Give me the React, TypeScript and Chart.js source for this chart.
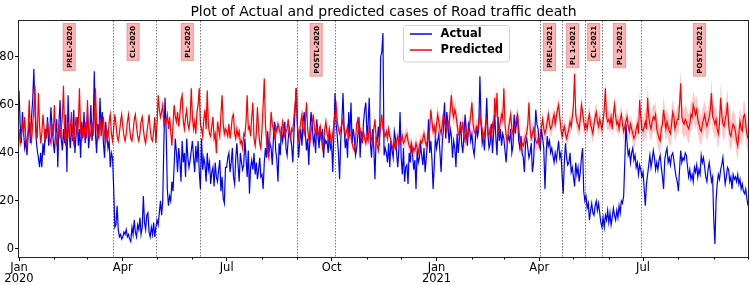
import { useEffect, useRef } from 'react';
import { Chart, registerables } from 'chart.js';

Chart.register(...registerables);

const FONT = "'DejaVu Sans', sans-serif";

const chartTitle = 'Plot of Actual and predicted cases of Road traffic death';

// day index 0 = 2020-01-01
const monthStartDays = [0, 31, 60, 91, 121, 152, 182, 213, 244, 274, 305, 335, 366, 397, 425, 456, 486, 517, 547, 578, 609, 639];
const majorTickDays = [0, 91, 182, 274, 366, 456, 547];
const majorTickLabels: (string | string[])[] = [['Jan', '2020'], 'Apr', 'Jul', 'Oct', ['Jan', '2021'], 'Apr', 'Jul'];
const yTickValues = [0, 20, 40, 60, 80];

const eventDays = [82, 120, 159, 244, 277, 457, 476, 496, 511, 545];
const phaseLabels = ['PREL-2020', 'CL-2020', 'PL-2020', 'POSTL-2020', 'PREL-2021', 'PL 1-2021', 'CL-2021', 'PL 2-2021', 'POSTL-2021'];
const phaseLabelDays = [44, 100, 147.5, 260.5, 465, 485.3, 503.7, 526.3, 596.4];
const phaseLabelTopValue = 94;

const actualQ1_2020 = [
  66, 52, 44, 57, 49, 42, 45, 39, 47, 53, 44, 55, 62, 75, 58, 46, 41, 38, 34, 40, 34, 44, 39, 50, 46, 55, 43, 48, 59, 50, 45,
  40, 48, 54, 34, 52, 62, 46, 41, 50, 44, 56, 32, 64, 48, 42, 52, 45, 58, 40, 47, 55, 43, 50, 38, 53, 46, 57, 44, 49,
  56, 42, 48, 60, 45, 51, 74, 48, 40, 52, 46, 63, 50, 57, 44, 38, 53, 47, 42, 45, 34, 40, 38, 25, 9, 10, 18, 8, 5, 6, 4,
];
const actualQ2_2020 = [
  5, 7, 6, 8, 5, 6, 4, 3, 9, 6, 12, 7, 5, 10, 8, 13, 6, 9, 22, 11, 8, 14, 15, 7, 5, 9, 6, 11, 5, 9,
  12, 10, 15, 20, 14, 20, 45, 63, 49, 25, 18, 22, 20, 28, 24, 35, 46, 40, 32, 42, 37, 28, 45, 36, 40, 30, 46, 38, 34, 37, 41,
  45, 38, 32, 43, 36, 45, 32, 25, 46, 33, 38, 35, 28, 40, 33, 36, 27, 32, 34, 26, 36, 30, 28, 33, 37, 24, 30, 21, 19, 34,
];
const actualQ3_2020 = [
  34, 38, 40, 32, 36, 42, 30, 27, 38, 44, 35, 28, 40, 36, 33, 35, 46, 38, 30, 41, 23, 34, 37, 33, 40, 31, 36, 29, 33, 38, 30,
  31, 25, 36, 42, 38, 49, 40, 44, 42, 35, 46, 53, 41, 37, 28, 44, 39, 51, 45, 48, 53, 42, 39, 46, 50, 47, 43, 36, 48, 58, 67,
  52, 38, 44, 50, 43, 53, 57, 48, 41, 46, 35, 49, 57, 52, 44, 47, 40, 54, 48, 42, 51, 45, 50, 38, 46, 44, 45, 40, 48, 42,
];
const actualQ4_2020 = [
  44, 32, 48, 65, 52, 47, 40, 29, 45, 53, 65, 50, 42, 46, 38, 57, 48, 61, 44, 50, 46, 39, 42, 47, 55, 38, 49, 44, 53, 58, 61,
  47, 52, 63, 44, 38, 50, 42, 29, 46, 45, 51, 43, 80, 82, 90, 39, 42, 40, 36, 44, 34, 45, 41, 38, 49, 46, 40, 34, 42, 57,
  38, 31, 42, 28, 34, 35, 27, 40, 36, 44, 39, 33, 37, 25, 41, 36, 38, 43, 39, 35, 42, 32, 38, 44, 54, 40, 45, 37, 25, 35, 47,
];
const actualQ1_2021 = [
  42, 45, 48, 40, 32, 44, 50, 61, 46, 57, 52, 44, 50, 47, 38, 45, 42, 34, 48, 40, 46, 53, 44, 40, 47, 56, 49, 43, 52, 50, 45,
  48, 42, 39, 45, 51, 47, 50, 72, 53, 44, 47, 41, 50, 63, 48, 42, 44, 52, 40, 48, 56, 46, 39, 55, 45, 50, 43, 48,
  46, 41, 36, 44, 47, 45, 50, 40, 43, 56, 48, 52, 56, 45, 42, 47, 40, 38, 32, 44, 46, 42, 38, 40, 44, 32, 36, 47, 58, 52, 50,
];
const actualQ2_2021 = [
  44, 42, 50, 46, 42, 25, 38, 47, 43, 45, 40, 42, 39, 36, 40, 37, 41, 45, 38, 40, 31, 23, 36, 44, 38, 35, 36, 40, 32, 34,
  30, 26, 36, 31, 34, 28, 32, 38, 42, 24, 20, 22, 17, 19, 12, 16, 19, 15, 14, 18, 20, 16, 19, 15, 11, 9, 13, 9, 14, 12, 16,
  11, 15, 10, 13, 17, 14, 12, 16, 13, 18, 15, 20, 19, 22, 36, 52, 44, 39, 41, 36, 40, 42, 37, 39, 34, 36, 31, 35, 33, 30,
];
const actualQ3_2021 = [
  32, 25, 18, 27, 31, 35, 39, 34, 37, 41, 38, 33, 36, 33, 37, 39, 34, 30, 25, 37, 40, 42, 36, 38, 35, 39, 40, 37, 33, 30, 28,
  24, 33, 41, 36, 38, 37, 40, 39, 34, 30, 33, 29, 31, 28, 34, 32, 35, 30, 33, 31, 39, 36, 38, 34, 30, 28, 33, 36, 32, 28, 30,
  12, 2, 20, 27, 31, 29, 33, 35, 38, 32, 27, 30, 34, 33, 28, 30, 25, 31, 29, 30, 28, 31, 27, 29, 25, 27, 24, 23, 25, 21, 18,
];

const predictedQ1_2020 = [
  50, 44, 47, 52, 48, 55, 46, 43, 50, 62, 48, 45, 52, 58, 68, 50, 46, 65, 52, 44, 48, 56, 50, 45, 47, 53, 49, 46, 44, 52, 47,
  60, 48, 44, 47, 52, 46, 50, 55, 68, 47, 43, 49, 53, 46, 51, 57, 47, 44, 50, 55, 48, 52, 67, 49, 45, 51, 47, 53, 46,
  62, 50, 46, 48, 53, 47, 55, 67, 52, 45, 49, 54, 47, 51, 55, 48, 44, 50, 46, 53, 56, 48, 45, 50, 56, 52, 47, 45, 48, 53, 56,
];
const predictedQ2_2020 = [
  51, 47, 45, 48, 53, 56, 50, 46, 45, 49, 54, 56, 51, 47, 45, 48, 53, 55, 50, 46, 44, 48, 52, 56, 50, 46, 45, 49, 55, 44,
  52, 64, 58, 55, 57, 60, 52, 54, 53, 56, 50, 55, 49, 43, 52, 60, 55, 53, 57, 51, 56, 62, 64, 53, 50, 55, 58, 52, 50, 54, 67,
  55, 50, 53, 48, 57, 60, 67, 52, 50, 47, 54, 58, 50, 66, 52, 48, 47, 51, 55, 46, 48, 40, 53, 50, 47, 56, 64, 52, 48, 50,
];
const predictedQ3_2020 = [
  49, 47, 52, 46, 50, 55, 56, 48, 46, 50, 47, 49, 44, 45, 42, 48, 47, 53, 64, 50, 51, 47, 55, 61, 46, 43, 48, 59, 50, 44, 42,
  50, 60, 71, 52, 45, 40, 38, 48, 57, 52, 50, 47, 51, 49, 52, 50, 48, 46, 53, 51, 47, 49, 50, 54, 48, 46, 50, 49, 55, 60, 67,
  52, 46, 49, 53, 56, 50, 48, 53, 61, 50, 46, 44, 49, 52, 56, 50, 48, 51, 47, 49, 51, 46, 42, 45, 50, 53, 48, 46, 50, 47,
];
const predictedQ4_2020 = [
  44, 48, 52, 57, 60, 53, 50, 48, 50, 52, 54, 50, 47, 49, 51, 46, 48, 47, 44, 42, 41, 45, 52, 54, 49, 50, 47, 45, 49, 46, 44,
  47, 45, 51, 48, 46, 44, 50, 54, 47, 43, 41, 46, 52, 56, 50, 48, 47, 49, 46, 50, 47, 45, 43, 41, 44, 42, 45, 47, 44, 46,
  45, 47, 44, 45, 47, 48, 45, 43, 42, 44, 40, 42, 41, 44, 42, 40, 43, 45, 44, 46, 48, 45, 43, 45, 47, 50, 58, 53, 49, 51, 47,
];
const predictedQ1_2021 = [
  52, 56, 53, 50, 48, 52, 56, 54, 51, 49, 53, 51, 58, 64, 57, 55, 58, 56, 52, 48, 47, 51, 49, 53, 47, 45, 50, 46, 48, 52, 56,
  61, 52, 49, 48, 51, 50, 53, 56, 52, 50, 45, 48, 52, 54, 49, 47, 50, 46, 52, 50, 63, 55, 65, 48, 50, 53, 56, 54,
  67, 52, 47, 44, 50, 53, 56, 50, 48, 49, 52, 54, 56, 50, 46, 42, 44, 43, 45, 47, 48, 52, 61, 50, 46, 48, 50, 47, 45, 44, 46,
];
const predictedQ2_2021 = [
  43, 48, 51, 54, 50, 48, 50, 53, 56, 52, 50, 51, 54, 56, 52, 55, 58, 60, 55, 50, 47, 49, 51, 48, 46, 48, 50, 53, 51, 55,
  60, 73, 56, 53, 52, 50, 54, 60, 57, 53, 50, 52, 50, 54, 56, 52, 50, 48, 52, 55, 57, 53, 51, 54, 52, 50, 53, 58, 67, 55, 53,
  54, 52, 55, 50, 56, 60, 55, 52, 53, 50, 54, 56, 52, 49, 51, 53, 55, 51, 49, 52, 50, 48, 46, 47, 50, 52, 48, 62, 55, 50,
];
const predictedQ3_2021 = [
  49, 51, 53, 50, 63, 55, 52, 50, 53, 55, 54, 56, 50, 48, 46, 45, 50, 52, 58, 54, 50, 53, 51, 49, 48, 52, 57, 55, 50, 52, 54,
  54, 60, 69, 55, 53, 52, 54, 53, 51, 50, 52, 56, 55, 60, 58, 56, 58, 54, 52, 50, 49, 52, 54, 56, 53, 51, 53, 55, 58, 65, 55,
  54, 52, 54, 50, 48, 52, 63, 56, 52, 51, 54, 56, 61, 52, 48, 47, 50, 52, 51, 49, 45, 43, 48, 53, 50, 49, 55, 56, 52, 48, 46,
];

// half width of the shaded predicted band, one value per month (Jan 2020 .. Oct 2021)
const bandHalfWidthByMonth = [1.5, 1.5, 1.5, 1, 2, 2.5, 2, 2.5, 2.5, 2, 2.5, 3, 4, 3.5, 3.5, 3.5, 4, 4, 5.5, 6, 6, 6];

export default function App() {
  const ref = useRef<HTMLCanvasElement>(null);

  useEffect(() => {
    document.body.style.margin = '0';
    const actual = [...actualQ1_2020, ...actualQ2_2020, ...actualQ3_2020, ...actualQ4_2020, ...actualQ1_2021, ...actualQ2_2021, ...actualQ3_2021];
    const predicted = [...predictedQ1_2020, ...predictedQ2_2020, ...predictedQ3_2020, ...predictedQ4_2020, ...predictedQ1_2021, ...predictedQ2_2021, ...predictedQ3_2021];
    const monthOf = (d: number) => {
      let m = 0;
      for (let i = 0; i < monthStartDays.length; i++) if (d >= monthStartDays[i]) m = i;
      return m;
    };
    const pts = (arr: number[]) => arr.map((v, i) => ({ x: i, y: v }));
    const upper = predicted.map((v, i) => ({ x: i, y: v + bandHalfWidthByMonth[monthOf(i)] }));
    const lower = predicted.map((v, i) => ({ x: i, y: v - bandHalfWidthByMonth[monthOf(i)] }));
    const lastDay = actual.length - 1;

    const decor = {
      id: 'decor',
      afterDatasetsDraw(chart: any) {
        const { ctx, chartArea: ca, scales } = chart;
        const xs = scales.x;
        const ys = scales.y;
        ctx.save();
        // event lines
        ctx.strokeStyle = 'rgba(0,0,0,0.65)';
        ctx.lineWidth = 0.8;
        ctx.setLineDash([1.5, 1.5]);
        for (const d of eventDays) {
          const x = Math.round(xs.getPixelForValue(d)) + 0.5;
          ctx.beginPath();
          ctx.moveTo(x, ca.top);
          ctx.lineTo(x, ca.bottom);
          ctx.stroke();
        }
        ctx.setLineDash([]);
        // phase labels
        ctx.font = `bold 7px ${FONT}`;
        const pad = 2.5;
        phaseLabels.forEach((t, i) => {
          const cx = xs.getPixelForValue(phaseLabelDays[i]);
          const top = ys.getPixelForValue(phaseLabelTopValue);
          const w = ctx.measureText(t).width;
          const bh = w + pad * 2;
          const bw = 7 + pad * 2;
          ctx.save();
          ctx.translate(cx, top + bh / 2);
          ctx.rotate(-Math.PI / 2);
          ctx.fillStyle = '#ffb3b3';
          ctx.strokeStyle = '#e69b9b';
          ctx.lineWidth = 1;
          ctx.fillRect(-bh / 2, -bw / 2, bh, bw);
          ctx.strokeRect(-bh / 2, -bw / 2, bh, bw);
          ctx.fillStyle = '#000';
          ctx.textAlign = 'center';
          ctx.textBaseline = 'middle';
          ctx.fillText(t, 0, 0.5);
          ctx.restore();
        });
        ctx.restore();
      },
      afterDraw(chart: any) {
        const { ctx, chartArea: ca, scales } = chart;
        const xs = scales.x;
        ctx.save();
        // frame
        ctx.strokeStyle = '#222';
        ctx.lineWidth = 1;
        ctx.strokeRect(ca.left - 0.5, ca.top - 0.5, ca.right - ca.left + 1, ca.bottom - ca.top + 1);
        // minor ticks
        ctx.beginPath();
        for (const d of monthStartDays) {
          if (majorTickDays.includes(d) || d > lastDay) continue;
          const x = Math.round(xs.getPixelForValue(d)) + 0.5;
          ctx.moveTo(x, ca.bottom);
          ctx.lineTo(x, ca.bottom + 2.5);
        }
        ctx.strokeStyle = '#000';
        ctx.stroke();
        // title
        ctx.fillStyle = '#000';
        ctx.font = `14px ${FONT}`;
        ctx.textAlign = 'center';
        ctx.textBaseline = 'alphabetic';
        ctx.fillText(chartTitle, (ca.left + ca.right) / 2, 16);
        // legend
        const lx = 403.5, ly = 25.5, lw = 106, lh = 36.5;
        ctx.beginPath();
        ctx.roundRect(lx, ly, lw, lh, 3);
        ctx.fillStyle = 'rgba(255,255,255,0.85)';
        ctx.fill();
        ctx.strokeStyle = '#d0d0d0';
        ctx.stroke();
        const entries = [
          { label: 'Actual', color: '#0000ff', y: 34 },
          { label: 'Predicted', color: '#ff0000', y: 50 },
        ];
        ctx.font = `bold 11.5px ${FONT}`;
        ctx.textAlign = 'left';
        ctx.textBaseline = 'middle';
        for (const e of entries) {
          ctx.beginPath();
          ctx.moveTo(410, e.y);
          ctx.lineTo(432, e.y);
          ctx.strokeStyle = e.color;
          ctx.lineWidth = 1.5;
          ctx.stroke();
          ctx.fillStyle = '#000';
          ctx.fillText(e.label, 440.5, e.y + 0.5);
        }
        ctx.restore();
      },
    };

    const chart = new Chart(ref.current as HTMLCanvasElement, {
      type: 'line',
      data: {
        datasets: [
          { label: 'Predicted', data: pts(predicted), borderColor: '#ff0000', borderWidth: 1.2, pointRadius: 0, fill: false, order: 0 },
          { label: 'Actual', data: pts(actual), borderColor: '#0000ff', borderWidth: 1.2, pointRadius: 0, fill: false, order: 1 },
          { label: 'upper', data: upper, borderColor: 'transparent', borderWidth: 0, pointRadius: 0, backgroundColor: 'rgba(255,0,0,0.22)', fill: 3, order: 2 },
          { label: 'lower', data: lower, borderColor: 'transparent', borderWidth: 0, pointRadius: 0, fill: false, order: 3 },
        ],
      } as any,
      options: {
        animation: false,
        responsive: false,
        devicePixelRatio: 1,
        events: [],
        layout: { padding: { top: 21, right: 2, left: 0, bottom: 0 } },
        plugins: { legend: { display: false }, tooltip: { enabled: false }, title: { display: false } },
        scales: {
          x: {
            type: 'linear',
            min: 0,
            max: lastDay,
            afterFit: (s: any) => { s.height = 28; },
            afterBuildTicks: (s: any) => { s.ticks = majorTickDays.map((v) => ({ value: v })); },
            ticks: {
              autoSkip: false,
              maxRotation: 0,
              color: '#000',
              padding: 1,
              font: { family: FONT, size: 11.5, lineHeight: 1.0 },
              callback: (v: any) => {
                const i = majorTickDays.indexOf(Number(v));
                return i >= 0 ? majorTickLabels[i] : '';
              },
            },
            grid: { display: true, drawOnChartArea: false, drawTicks: true, tickLength: 4, tickColor: '#000', tickWidth: 1 },
            border: { display: false },
          },
          y: {
            min: -3.4,
            max: 95,
            afterFit: (s: any) => { s.width = 19; },
            afterBuildTicks: (s: any) => { s.ticks = yTickValues.map((v) => ({ value: v })); },
            ticks: { color: '#000', padding: 1, font: { family: FONT, size: 11.5 } },
            grid: { display: true, drawOnChartArea: false, drawTicks: true, tickLength: 4, tickColor: '#000', tickWidth: 1 },
            border: { display: false },
          },
        },
      } as any,
      plugins: [decor],
    });
    return () => chart.destroy();
  }, []);

  return (
    <div style={{ position: 'fixed', left: 0, top: 0, width: 750, height: 285, background: '#fff' }}>
      <canvas ref={ref} width={750} height={285} style={{ display: 'block', width: 750, height: 285 }} />
    </div>
  );
}
